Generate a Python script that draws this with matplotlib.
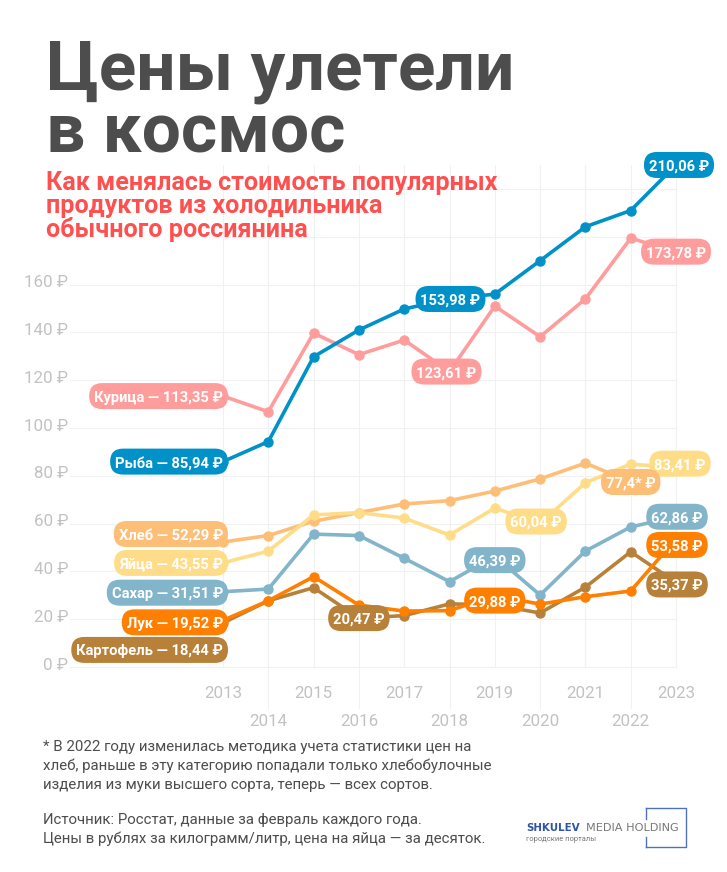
import matplotlib
matplotlib.use('Agg')
import matplotlib.pyplot as plt
from matplotlib.patches import FancyBboxPatch
from matplotlib.transforms import IdentityTransform

plt.rcParams['font.family'] = ['Roboto', 'DejaVu Sans']

W, H = 727, 872

years = [2013, 2014, 2015, 2016, 2017, 2018, 2019, 2020, 2021, 2022, 2023]

kurica = [113.35, 106.8, 139.7, 130.7, 136.8, 123.61, 151, 138.2, 154, 179.4, 173.78]
ryba = [85.94, 94.3, 129.8, 141, 149.8, 153.98, 156, 170, 184.2, 191, 210.06]
hleb = [52.29, 55, 61, 64.6, 68.2, 69.6, 73.6, 78.7, 85.3, 77.4]
yaica = [43.55, 48.5, 63.6, 64.6, 62.3, 55.2, 66.5, 60.04, 77.1, 84.9, 83.41]
sahar = [31.51, 32.6, 55.6, 55, 45.5, 35.7, 46.39, 30.1, 48.5, 58.6, 62.86]
kartofel = [18.44, 27.7, 33.2, 20.47, 21.5, 26.4, 26, 22.6, 33.4, 48.2, 35.37]
luk = [19.52, 27.7, 37.8, 25.9, 23.4, 23.6, 29.88, 26.3, 29.4, 31.8, 53.58]

y_ticks = [0, 20, 40, 60, 80, 100, 120, 140, 160]
grid_y = [0, 20, 40, 60, 80, 100, 120, 140, 160, 180, 200]

C_KUR = '#ff9c9c'
C_RYB = '#0091c8'
C_HLE = '#fdbe78'
C_YAI = '#ffdc87'
C_SAH = '#82b4ca'
C_LUK = '#ff7f00'
C_KAR = '#b8813a'
GRAY = '#4d4d4d'
TICK = '#c2c2c2'
GRID = '#f1f1f1'

# масштаб: 2013 -> 223 px, шаг 45.3 px; 0 -> 667 px, 2.39 px на рубль
x_step, y_step = 45.3, 2.39
x0, y0 = 223, 667

fig = plt.figure(figsize=(W / 100, H / 100), dpi=100)
ax = fig.add_axes([0, 0, 1, 1])
ax.set_xlim(2013 - x0 / x_step, 2013 + (W - x0) / x_step)
ax.set_ylim((y0 - H) / y_step, y0 / y_step)
ax.axis('off')
renderer = fig.canvas.get_renderer()


def px_text(x, y, s, **kw):
    return fig.text(x / W, 1 - y / H, s, **kw)


# сетка
x_left = 2013 + (70 - x0) / x_step
for v in grid_y:
    ax.plot([x_left if v <= 160 else 2013, 2023], [v, v], color=GRID, lw=0.75, zorder=1)
for i, yr in enumerate(years):
    low = -17 if i % 2 else 0
    ax.plot([yr, yr], [low, 210], color=GRID, lw=0.75, zorder=1)
    px_text(x0 + i * x_step, 721 if i % 2 else 694, str(yr), color=TICK, fontsize=12.2,
            ha='center', va='center')
for v in y_ticks:
    ax.text(2013 + (68 - x0) / x_step, v + 0.8, f'{v} ₽', color=TICK, fontsize=12.2,
            ha='right', va='center')

# линии
series = [
    (kurica, C_KUR), (ryba, C_RYB), (hleb, C_HLE), (yaica, C_YAI),
    (sahar, C_SAH), (kartofel, C_KAR), (luk, C_LUK),
]
for k, (vals, col) in enumerate(series):
    ax.plot(years[:len(vals)], vals, color=col, lw=2.6, marker='o', ms=6.5, zorder=3 + k * 0.1)

z_pill = 5


def pill(year, value, s, col, dx=0, dy=0, ha='center'):
    # плашка постоянной высоты 26 px вокруг текста
    global z_pill
    z_pill += 0.1
    cx, cy = ax.transData.transform((year, value))
    cx += dx
    cy += dy
    t = ax.text(cx, cy, s, transform=IdentityTransform(), ha=ha, va='center_baseline',
                color='white', fontsize=10.6, fontweight='bold', zorder=z_pill + 0.05)
    ext = t.get_window_extent(renderer)
    box = FancyBboxPatch((ext.x0 - 5, cy - 13), ext.width + 10, 26,
                         boxstyle='round,pad=0,rounding_size=13', fc=col, ec='none',
                         transform=IdentityTransform(), zorder=z_pill)
    ax.add_patch(box)


# подписи слева
pill(2013, kurica[0], 'Курица — 113,35 ₽', C_KUR, ha='right')
pill(2013, ryba[0], 'Рыба — 85,94 ₽', C_RYB, ha='right')
pill(2013, hleb[0], 'Хлеб — 52,29 ₽', C_HLE, dy=8, ha='right')
pill(2013, yaica[0], 'Яйца — 43,55 ₽', C_YAI, ha='right')
pill(2013, sahar[0], 'Сахар — 31,51 ₽', C_SAH, dy=-1, ha='right')
pill(2013, luk[0], 'Лук — 19,52 ₽', C_LUK, dy=-2, ha='right')
pill(2013, kartofel[0], 'Картофель — 18,44 ₽', C_KAR, dy=-27, ha='right')

# подписи на линиях
pill(2018, ryba[5], '153,98 ₽', C_RYB, dx=1)
pill(2018, kurica[5], '123,61 ₽', C_KUR, dx=-3)
pill(2023, kurica[10], '173,78 ₽', C_KUR)
pill(2023, ryba[10], '210,06 ₽', C_RYB, dx=3)
pill(2023, yaica[10], '83,41 ₽', C_YAI, dx=4, dy=4)
pill(2022, hleb[9], '77,4* ₽', C_HLE)
pill(2020, yaica[7], '60,04 ₽', C_YAI, dx=-4, dy=2)
pill(2023, sahar[10], '62,86 ₽', C_SAH, dx=1)
pill(2023, luk[10], '53,58 ₽', C_LUK, dx=1, dy=-6)
pill(2023, kartofel[10], '35,37 ₽', C_KAR, dx=1, dy=-2)
pill(2019, sahar[6], '46,39 ₽', C_SAH, dy=-4)
pill(2019, luk[6], '29,88 ₽', C_LUK, dy=-5)
pill(2016, kartofel[3], '20,47 ₽', C_KAR)

# заголовки
px_text(46, 71, 'Цены улетели', color=GRAY, fontsize=50, fontweight='bold', va='center')
px_text(46, 134, 'в космос', color=GRAY, fontsize=50, fontweight='bold', va='center')
for yy, s in zip([183, 206, 230], ['Как менялась стоимость популярных',
                                   'продуктов из холодильника',
                                   'обычного россиянина']):
    px_text(46, yy, s, color='#ff5050', fontsize=18.1, fontweight='bold', va='center')

# примечания
notes = [
    (747, '* В 2022 году изменилась методика учета статистики цен на'),
    (766, 'хлеб, раньше в эту категорию попадали только хлебобулочные'),
    (785, 'изделия из муки высшего сорта, теперь — всех сортов.'),
    (820, 'Источник: Росстат, данные за февраль каждого года.'),
    (839, 'Цены в рублях за килограмм/литр, цена на яйца — за десяток.'),
]
for yy, s in notes:
    px_text(43, yy, s, color=GRAY, fontsize=10.85, va='center')

# логотип
px_text(526, 827.5, 'SHKULEV', color='#2f55a8', fontsize=7.4, fontweight='bold', va='center',
        family='DejaVu Sans')
px_text(586, 827.5, 'MEDIA HOLDING', color='#777777', fontsize=8.1, va='center',
        family='DejaVu Sans')
px_text(526, 839, 'городские порталы', color='#777777', fontsize=5.4, va='center')
fig.add_artist(plt.Line2D([646 / W, 686 / W, 686 / W, 646 / W],
                          [1 - 808 / H, 1 - 808 / H, 1 - 847 / H, 1 - 847 / H],
                          color='#4f72b8', lw=1))
fig.add_artist(plt.Line2D([646 / W, 646 / W], [1 - 808 / H, 1 - 819 / H], color='#4f72b8', lw=1))
fig.add_artist(plt.Line2D([646 / W, 646 / W], [1 - 837 / H, 1 - 847 / H], color='#4f72b8', lw=1))

fig.savefig('out.png', dpi=100)
